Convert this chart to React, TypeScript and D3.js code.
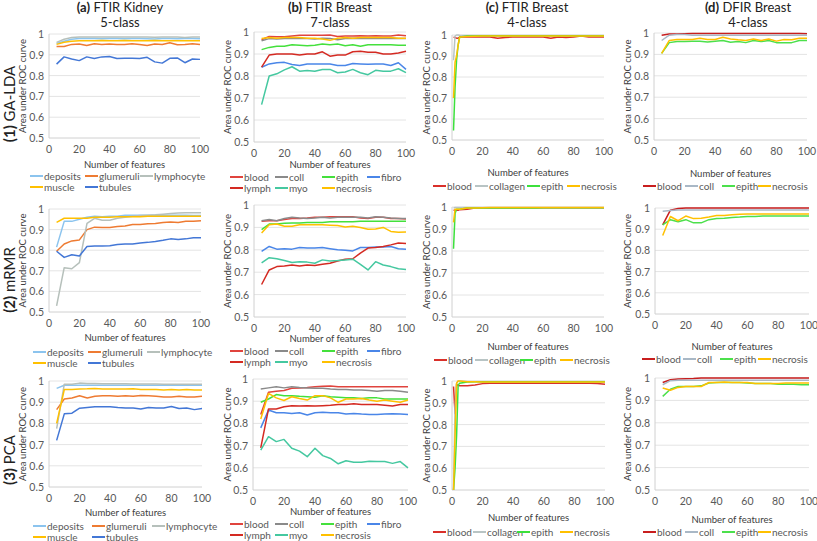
import React from "react";
import * as d3 from "d3";

const X5 = [5, 10, 15, 20, 25, 30, 35, 40, 45, 50, 55, 60, 65, 70, 75, 80, 85, 90, 95, 100];
const XC = [1, 2, 3, 4, 5, 10, 15, 20, 25, 30, 35, 40, 45, 50, 55, 60, 65, 70, 75, 80, 85, 90, 95, 100];
const X_TICKS = [0, 20, 40, 60, 80, 100];
const Y_TICKS = [0.5, 0.6, 0.7, 0.8, 0.9, 1];
const Y_TICK_LABELS = ["0.5", "0.6", "0.7", "0.8", "0.9", "1"];

const COL_TITLES = [
  ["(a)", "FTIR Kidney", "5-class"],
  ["(b)", "FTIR Breast", "7-class"],
  ["(c)", "FTIR Breast", "4-class"],
  ["(d)", "DFIR Breast", "4-class"],
];
const ROW_LABELS = [["(1)", "GA-LDA"], ["(2)", "mRMR"], ["(3)", "PCA"]];

const KIDNEY_NAMES = ["deposits", "glumeruli", "lymphocyte", "muscle", "tubules"];
const KIDNEY_COLORS = ["#8cc4ee", "#ee7b32", "#b6c0bb", "#ffc000", "#4377d6"];
const B7_NAMES = ["blood", "coll", "epith", "fibro", "lymph", "myo", "necrosis"];
const B7_COLORS = ["#e0443e", "#8a8a8a", "#44e03c", "#4a86e8", "#d42a22", "#45c8a0", "#ffc000"];
const F4_NAMES = ["blood", "collagen", "epith", "necrosis"];
const F4_COLORS = ["#d9302a", "#b8c4c4", "#3ce03c", "#ffc000"];
const D4_NAMES = ["blood", "coll", "epith", "necrosis"];
const D4_COLORS = ["#c81e1e", "#a9b8c6", "#4ce04c", "#ffc000"];

// (1a) GA-LDA, FTIR Kidney
const gaKidDeposits = [0.955, 0.965, 0.975, 0.978, 0.978, 0.978, 0.977, 0.978, 0.978, 0.977, 0.978, 0.978, 0.977, 0.976, 0.978, 0.978, 0.977, 0.978, 0.978, 0.977];
const gaKidGlumeruli = [0.94, 0.94, 0.95, 0.952, 0.945, 0.953, 0.95, 0.952, 0.95, 0.95, 0.953, 0.95, 0.945, 0.952, 0.95, 0.958, 0.948, 0.95, 0.953, 0.95];
const gaKidLymphocyte = [0.96, 0.975, 0.983, 0.985, 0.985, 0.986, 0.985, 0.985, 0.986, 0.985, 0.985, 0.986, 0.985, 0.984, 0.985, 0.986, 0.985, 0.983, 0.985, 0.986];
const gaKidMuscle = [0.95, 0.96, 0.965, 0.968, 0.968, 0.968, 0.969, 0.968, 0.968, 0.969, 0.968, 0.968, 0.968, 0.969, 0.968, 0.968, 0.968, 0.968, 0.967, 0.968];
const gaKidTubules = [0.855, 0.89, 0.88, 0.872, 0.89, 0.882, 0.89, 0.892, 0.882, 0.883, 0.884, 0.882, 0.888, 0.866, 0.86, 0.883, 0.885, 0.862, 0.88, 0.878];

// (1b) GA-LDA, FTIR Breast 7-class
const gaB7Blood = [0.965, 0.98, 0.978, 0.978, 0.982, 0.985, 0.985, 0.985, 0.985, 0.986, 0.98, 0.982, 0.982, 0.983, 0.982, 0.983, 0.982, 0.982, 0.986, 0.983];
const gaB7Coll = [0.96, 0.97, 0.968, 0.97, 0.972, 0.97, 0.97, 0.968, 0.972, 0.97, 0.965, 0.97, 0.972, 0.97, 0.972, 0.97, 0.972, 0.97, 0.97, 0.97];
const gaB7Epith = [0.92, 0.93, 0.935, 0.935, 0.942, 0.94, 0.938, 0.94, 0.945, 0.942, 0.945, 0.938, 0.942, 0.935, 0.942, 0.942, 0.942, 0.942, 0.94, 0.94];
const gaB7Fibro = [0.84, 0.855, 0.86, 0.862, 0.852, 0.848, 0.855, 0.855, 0.855, 0.855, 0.848, 0.848, 0.857, 0.855, 0.853, 0.855, 0.855, 0.848, 0.86, 0.83];
const gaB7Lymph = [0.84, 0.895, 0.9, 0.9, 0.9, 0.895, 0.9, 0.9, 0.91, 0.89, 0.895, 0.895, 0.91, 0.912, 0.908, 0.908, 0.9, 0.9, 0.905, 0.912];
const gaB7Myo = [0.67, 0.8, 0.81, 0.828, 0.842, 0.822, 0.825, 0.822, 0.83, 0.83, 0.815, 0.818, 0.83, 0.815, 0.806, 0.826, 0.822, 0.822, 0.833, 0.815];
const gaB7Necrosis = [0.97, 0.975, 0.972, 0.975, 0.975, 0.975, 0.972, 0.972, 0.968, 0.962, 0.972, 0.975, 0.972, 0.975, 0.975, 0.975, 0.975, 0.975, 0.972, 0.972];

// (1c) GA-LDA, FTIR Breast 4-class
const gaF4Blood = [0.99, 0.988, 0.985, 0.985, 0.99, 0.99, 0.99, 0.99, 0.99, 0.985, 0.988, 0.99, 0.99, 0.99, 0.99, 0.99, 0.985, 0.99, 0.988, 0.99, 0.995, 0.99, 0.99, 0.99];
const gaF4Collagen = [0.88, 0.995, 1, 1, 0.999, 0.998, 0.998, 0.998, 0.998, 0.998, 0.998, 0.998, 0.998, 0.998, 0.998, 0.998, 0.998, 0.998, 0.998, 0.998, 0.998, 0.998, 0.998, 0.998];
const gaF4Epith = [0.545, 0.75, 0.88, 0.95, 0.99, 0.995, 0.995, 0.996, 0.997, 0.997, 0.997, 0.997, 0.997, 0.997, 0.997, 0.997, 0.997, 0.997, 0.997, 0.997, 0.997, 0.997, 0.997, 0.997];
const gaF4Necrosis = [0.7, 0.87, 0.9, 0.95, 0.99, 0.993, 0.994, 0.995, 0.995, 0.995, 0.995, 0.995, 0.995, 0.995, 0.995, 0.995, 0.995, 0.995, 0.995, 0.995, 0.995, 0.995, 0.995, 0.995];

// (1d) GA-LDA, DFIR Breast 4-class
const gaD4Blood = [0.99, 0.995, 0.995, 0.997, 0.998, 0.998, 0.998, 0.998, 0.998, 0.998, 0.998, 0.998, 0.998, 0.998, 0.998, 0.998, 0.998, 0.998, 0.998, 0.997];
const gaD4Coll = [0.965, 0.99, 0.993, 0.993, 0.99, 0.99, 0.99, 0.99, 0.99, 0.99, 0.99, 0.99, 0.99, 0.99, 0.99, 0.99, 0.99, 0.99, 0.99, 0.99];
const gaD4Epith = [0.905, 0.955, 0.96, 0.96, 0.962, 0.962, 0.958, 0.962, 0.965, 0.957, 0.96, 0.955, 0.965, 0.96, 0.965, 0.955, 0.955, 0.955, 0.965, 0.965];
const gaD4Necrosis = [0.905, 0.965, 0.97, 0.97, 0.97, 0.975, 0.97, 0.97, 0.98, 0.972, 0.968, 0.965, 0.972, 0.965, 0.972, 0.962, 0.97, 0.968, 0.975, 0.975];

// (2a) mRMR, FTIR Kidney
const mrKidDeposits = [0.815, 0.94, 0.94, 0.95, 0.96, 0.965, 0.962, 0.965, 0.965, 0.97, 0.97, 0.97, 0.97, 0.97, 0.97, 0.97, 0.97, 0.97, 0.968, 0.968];
const mrKidGlumeruli = [0.795, 0.83, 0.845, 0.85, 0.9, 0.912, 0.91, 0.91, 0.915, 0.918, 0.925, 0.925, 0.928, 0.93, 0.935, 0.937, 0.935, 0.94, 0.94, 0.943];
const mrKidLymphocyte = [0.53, 0.715, 0.71, 0.74, 0.93, 0.955, 0.945, 0.945, 0.955, 0.96, 0.965, 0.968, 0.97, 0.972, 0.975, 0.978, 0.98, 0.982, 0.982, 0.982];
const mrKidMuscle = [0.935, 0.955, 0.955, 0.955, 0.955, 0.96, 0.96, 0.96, 0.962, 0.962, 0.962, 0.962, 0.965, 0.965, 0.965, 0.965, 0.965, 0.965, 0.965, 0.965];
const mrKidTubules = [0.795, 0.765, 0.778, 0.772, 0.818, 0.82, 0.82, 0.822, 0.828, 0.83, 0.83, 0.835, 0.838, 0.842, 0.848, 0.855, 0.852, 0.855, 0.86, 0.86];

// (2b) mRMR, FTIR Breast 7-class
const mrB7Blood = [0.928, 0.93, 0.93, 0.935, 0.94, 0.94, 0.942, 0.945, 0.945, 0.948, 0.948, 0.948, 0.948, 0.942, 0.94, 0.945, 0.945, 0.94, 0.94, 0.938];
const mrB7Coll = [0.93, 0.935, 0.93, 0.94, 0.945, 0.942, 0.94, 0.942, 0.945, 0.942, 0.945, 0.945, 0.945, 0.945, 0.942, 0.948, 0.945, 0.942, 0.94, 0.94];
const mrB7Epith = [0.89, 0.915, 0.915, 0.918, 0.92, 0.92, 0.922, 0.922, 0.922, 0.925, 0.925, 0.925, 0.925, 0.928, 0.928, 0.928, 0.928, 0.928, 0.928, 0.928];
const mrB7Fibro = [0.793, 0.815, 0.803, 0.805, 0.803, 0.81, 0.808, 0.808, 0.81, 0.805, 0.8, 0.798, 0.795, 0.81, 0.81, 0.812, 0.812, 0.815, 0.805, 0.803];
const mrB7Lymph = [0.645, 0.71, 0.725, 0.728, 0.732, 0.728, 0.732, 0.73, 0.735, 0.74, 0.75, 0.758, 0.76, 0.785, 0.808, 0.81, 0.815, 0.822, 0.83, 0.828];
const mrB7Myo = [0.742, 0.765, 0.76, 0.752, 0.743, 0.747, 0.745, 0.74, 0.755, 0.75, 0.752, 0.755, 0.758, 0.735, 0.71, 0.747, 0.732, 0.725, 0.715, 0.712];
const mrB7Necrosis = [0.875, 0.912, 0.915, 0.905, 0.905, 0.912, 0.912, 0.912, 0.912, 0.91, 0.908, 0.902, 0.905, 0.9, 0.892, 0.893, 0.9, 0.882, 0.878, 0.88];

// (2c) mRMR, FTIR Breast 4-class
const mrF4Blood = [0.985, 0.985, 0.985, 0.985, 0.988, 0.99, 0.995, 0.997, 0.997, 0.997, 0.997, 0.997, 0.997, 0.997, 0.997, 0.997, 0.997, 0.997, 0.997, 0.997, 0.997, 0.997, 0.997, 0.997];
const mrF4Collagen = [0.995, 0.998, 0.998, 0.998, 0.998, 0.998, 0.998, 0.998, 0.998, 0.998, 0.998, 0.998, 0.998, 0.998, 0.998, 0.998, 0.998, 0.998, 0.998, 0.998, 0.998, 0.998, 0.998, 0.998];
const mrF4Epith = [0.81, 0.97, 0.99, 0.99, 0.99, 0.995, 0.995, 0.995, 0.995, 0.995, 0.995, 0.996, 0.996, 0.996, 0.996, 0.997, 0.997, 0.997, 0.997, 0.997, 0.997, 0.997, 0.997, 0.997];
const mrF4Necrosis = [0.93, 0.99, 0.99, 0.99, 0.99, 0.995, 0.996, 0.997, 0.998, 0.998, 0.998, 0.998, 0.998, 0.998, 0.998, 0.998, 0.998, 0.998, 0.998, 0.998, 0.998, 0.998, 0.998, 0.998];

// (2d) mRMR, DFIR Breast 4-class
const mrD4Blood = [0.92, 0.99, 0.998, 1, 1, 1, 1, 1, 1, 1, 1, 1, 1, 1, 1, 1, 1, 1, 1, 1];
const mrD4Coll = [0.985, 0.988, 0.99, 0.99, 0.99, 0.99, 0.99, 0.99, 0.99, 0.99, 0.99, 0.99, 0.99, 0.99, 0.99, 0.99, 0.99, 0.99, 0.99, 0.99];
const mrD4Epith = [0.92, 0.945, 0.935, 0.945, 0.93, 0.93, 0.945, 0.95, 0.952, 0.955, 0.957, 0.96, 0.96, 0.962, 0.962, 0.962, 0.962, 0.962, 0.962, 0.962];
const mrD4Necrosis = [0.87, 0.96, 0.94, 0.962, 0.95, 0.952, 0.958, 0.965, 0.965, 0.968, 0.97, 0.972, 0.972, 0.972, 0.972, 0.972, 0.972, 0.972, 0.972, 0.972];

// (3a) PCA, FTIR Kidney
const pcKidDeposits = [0.965, 0.98, 0.98, 0.98, 0.98, 0.98, 0.98, 0.98, 0.98, 0.98, 0.98, 0.98, 0.98, 0.98, 0.98, 0.98, 0.98, 0.98, 0.98, 0.98];
const pcKidGlumeruli = [0.865, 0.915, 0.92, 0.93, 0.92, 0.928, 0.93, 0.93, 0.928, 0.93, 0.928, 0.932, 0.93, 0.928, 0.925, 0.925, 0.928, 0.925, 0.925, 0.928];
const pcKidLymphocyte = [0.775, 0.985, 0.985, 0.99, 0.988, 0.988, 0.987, 0.987, 0.987, 0.987, 0.986, 0.986, 0.986, 0.986, 0.985, 0.985, 0.985, 0.985, 0.985, 0.985];
const pcKidMuscle = [0.8, 0.96, 0.96, 0.962, 0.963, 0.965, 0.962, 0.962, 0.962, 0.962, 0.963, 0.96, 0.96, 0.96, 0.958, 0.96, 0.958, 0.96, 0.958, 0.958];
const pcKidTubules = [0.72, 0.845, 0.848, 0.872, 0.875, 0.878, 0.878, 0.878, 0.875, 0.873, 0.873, 0.868, 0.875, 0.873, 0.873, 0.88, 0.87, 0.873, 0.865, 0.87];

// (3b) PCA, FTIR Breast 7-class
const pcB7Blood = [0.84, 0.94, 0.945, 0.948, 0.958, 0.96, 0.962, 0.965, 0.967, 0.968, 0.965, 0.965, 0.965, 0.965, 0.965, 0.965, 0.965, 0.965, 0.965, 0.965];
const pcB7Coll = [0.955, 0.96, 0.965, 0.96, 0.965, 0.962, 0.96, 0.958, 0.958, 0.955, 0.953, 0.953, 0.95, 0.95, 0.948, 0.945, 0.948, 0.948, 0.945, 0.94];
const pcB7Epith = [0.895, 0.91, 0.93, 0.925, 0.925, 0.922, 0.92, 0.918, 0.925, 0.92, 0.918, 0.915, 0.915, 0.912, 0.915, 0.915, 0.91, 0.91, 0.91, 0.91];
const pcB7Fibro = [0.78, 0.86, 0.848, 0.848, 0.845, 0.848, 0.838, 0.848, 0.85, 0.848, 0.848, 0.842, 0.845, 0.842, 0.84, 0.84, 0.842, 0.843, 0.842, 0.84];
const pcB7Lymph = [0.69, 0.865, 0.865, 0.875, 0.88, 0.878, 0.88, 0.878, 0.88, 0.882, 0.885, 0.885, 0.888, 0.885, 0.885, 0.885, 0.882, 0.878, 0.885, 0.885];
const pcB7Myo = [0.68, 0.74, 0.718, 0.728, 0.688, 0.675, 0.65, 0.688, 0.655, 0.642, 0.618, 0.632, 0.625, 0.625, 0.63, 0.628, 0.628, 0.62, 0.628, 0.6];
const pcB7Necrosis = [0.82, 0.935, 0.915, 0.903, 0.92, 0.912, 0.905, 0.925, 0.925, 0.915, 0.895, 0.91, 0.91, 0.912, 0.905, 0.9, 0.905, 0.9, 0.895, 0.905];

// (3c) PCA, FTIR Breast 4-class
const pcF4Blood = [0.975, 0.85, 0.985, 0.98, 0.978, 0.978, 0.982, 0.988, 0.99, 0.99, 0.99, 0.99, 0.99, 0.99, 0.99, 0.99, 0.99, 0.99, 0.99, 0.99, 0.99, 0.99, 0.988, 0.985];
const pcF4Collagen = [0.5, 0.88, 0.99, 1, 1, 0.998, 0.998, 0.998, 0.998, 0.998, 0.998, 0.998, 0.998, 0.998, 0.998, 0.998, 0.998, 0.998, 0.998, 0.998, 0.998, 0.998, 0.998, 0.998];
const pcF4Epith = [0.5, 0.6, 0.75, 0.98, 0.99, 0.995, 0.996, 0.996, 0.997, 0.997, 0.997, 0.997, 0.997, 0.997, 0.997, 0.997, 0.997, 0.997, 0.997, 0.997, 0.997, 0.997, 0.997, 0.997];
const pcF4Necrosis = [0.5, 0.75, 0.99, 1, 1, 0.997, 0.996, 0.995, 0.995, 0.995, 0.995, 0.995, 0.995, 0.995, 0.995, 0.995, 0.995, 0.995, 0.995, 0.995, 0.995, 0.995, 0.995, 0.995];

// (3d) PCA, DFIR Breast 4-class
const pcD4Blood = [0.98, 0.992, 0.995, 0.997, 0.998, 1, 1, 1, 1, 1, 1, 1, 1, 1, 1, 1, 1, 1, 1, 1];
const pcD4Coll = [0.97, 0.988, 0.99, 0.99, 0.99, 0.99, 0.99, 0.99, 0.99, 0.99, 0.99, 0.99, 0.99, 0.99, 0.99, 0.99, 0.99, 0.99, 0.99, 0.99];
const pcD4Epith = [0.918, 0.95, 0.962, 0.962, 0.962, 0.965, 0.978, 0.98, 0.98, 0.98, 0.98, 0.978, 0.975, 0.975, 0.975, 0.972, 0.972, 0.972, 0.97, 0.97];
const pcD4Necrosis = [0.955, 0.945, 0.958, 0.962, 0.962, 0.962, 0.98, 0.98, 0.982, 0.98, 0.98, 0.98, 0.975, 0.975, 0.975, 0.975, 0.978, 0.978, 0.978, 0.978];

const ROWS_DATA = [
  [
    [gaKidDeposits, gaKidGlumeruli, gaKidLymphocyte, gaKidMuscle, gaKidTubules],
    [gaB7Blood, gaB7Coll, gaB7Epith, gaB7Fibro, gaB7Lymph, gaB7Myo, gaB7Necrosis],
    [gaF4Blood, gaF4Collagen, gaF4Epith, gaF4Necrosis],
    [gaD4Blood, gaD4Coll, gaD4Epith, gaD4Necrosis],
  ],
  [
    [mrKidDeposits, mrKidGlumeruli, mrKidLymphocyte, mrKidMuscle, mrKidTubules],
    [mrB7Blood, mrB7Coll, mrB7Epith, mrB7Fibro, mrB7Lymph, mrB7Myo, mrB7Necrosis],
    [mrF4Blood, mrF4Collagen, mrF4Epith, mrF4Necrosis],
    [mrD4Blood, mrD4Coll, mrD4Epith, mrD4Necrosis],
  ],
  [
    [pcKidDeposits, pcKidGlumeruli, pcKidLymphocyte, pcKidMuscle, pcKidTubules],
    [pcB7Blood, pcB7Coll, pcB7Epith, pcB7Fibro, pcB7Lymph, pcB7Myo, pcB7Necrosis],
    [pcF4Blood, pcF4Collagen, pcF4Epith, pcF4Necrosis],
    [pcD4Blood, pcD4Coll, pcD4Epith, pcD4Necrosis],
  ],
];

const COL_META = [
  { names: KIDNEY_NAMES, colors: KIDNEY_COLORS, xs: X5, perRow: 3 },
  { names: B7_NAMES, colors: B7_COLORS, xs: X5, perRow: 4 },
  { names: F4_NAMES, colors: F4_COLORS, xs: XC, perRow: 4 },
  { names: D4_NAMES, colors: D4_COLORS, xs: X5, perRow: 4 },
];

// layout: [left, right, top(y=1), bottom(y=0.5), axisTitleY, legendY]
const BOXES = [
  [[49, 200, 34, 138, 164, 176], [254, 406, 32, 142, 164, 177], [452, 604, 35, 140, 172, 186], [654, 807, 33, 140, 173, 186]],
  [[49, 201, 209, 312, 337, 352], [254, 406, 205, 317, 338, 351], [452, 604, 207, 317, 346, 360], [655, 809, 208, 314, 346, 359]],
  [[49, 202, 381, 487, 512, 526], [253, 408, 379, 490, 511, 524], [452, 605, 381, 490, 517, 532], [655, 809, 378, 490, 519, 532]],
];
const LEGEND_X = [
  [[30, 85, 140], [230, 275, 322, 367], [433, 475, 527, 567], [643, 685, 722, 758]],
  [[33, 88, 147], [230, 275, 322, 367], [434, 475, 520, 560], [642, 683, 720, 758]],
  [[33, 92, 152], [230, 275, 321, 367], [433, 473, 517, 560], [643, 685, 722, 758]],
];
const Y_TITLE_X = [23, 228, 427, 628];
const COL_CENTER = [120, 330, 527, 748];
const ROW_LABEL_Y = [104, 280, 460];

const FONT = "Lato, 'Liberation Sans', sans-serif";
const TXT = "#595959";

function Panel({ row, col }: { row: number; col: number }) {
  const [l, r, t, b, axisTitleY, legendY] = BOXES[row][col];
  const meta = COL_META[col];
  const data = ROWS_DATA[row][col];
  const x = d3.scaleLinear().domain([0, 100]).range([l, r]);
  const y = d3.scaleLinear().domain([0.5, 1]).range([b, t]);
  const line = d3
    .line<number>()
    .x((_, i) => x(meta.xs[i]))
    .y((d) => y(d));
  const lx = LEGEND_X[row][col];
  return (
    <g>
      {Y_TICKS.map((v, i) => (
        <g key={"y" + i}>
          <line x1={l} x2={r} y1={y(v)} y2={y(v)} stroke={i === 0 ? "#d0d0d0" : "#e4e4e4"} strokeWidth={1} />
          <text x={l - 5} y={y(v) + 4} textAnchor="end" fontSize={10.5} fill={TXT} fontFamily={FONT}>
            {Y_TICK_LABELS[i]}
          </text>
        </g>
      ))}
      <line x1={l} x2={l} y1={t} y2={b} stroke="#d0d0d0" strokeWidth={1} />
      {X_TICKS.map((v) => (
        <text key={"x" + v} x={x(v)} y={b + 15} textAnchor="middle" fontSize={10.5} fill={TXT} fontFamily={FONT}>
          {v}
        </text>
      ))}
      <text x={(l + r) / 2} y={axisTitleY + 4} textAnchor="middle" fontSize={9.5} fill="#404040" fontFamily={FONT}>
        Number of features
      </text>
      <text
        transform={`translate(${Y_TITLE_X[col]},${(t + b) / 2}) rotate(-90)`}
        textAnchor="middle"
        dy={3}
        fontSize={9.5}
        fill="#404040"
        fontFamily={FONT}
      >
        Area under ROC curve
      </text>
      {data.map((vals, i) => (
        <path key={"s" + i} d={line(vals) || ""} fill="none" stroke={meta.colors[i]} strokeWidth={1.5} strokeLinejoin="round" />
      ))}
      {meta.names.map((name, i) => {
        const rowIdx = Math.floor(i / meta.perRow);
        const colIdx = i % meta.perRow;
        const xx = lx[colIdx];
        const yy = legendY + rowIdx * 11;
        return (
          <g key={"l" + i}>
            <line x1={xx} x2={xx + 13} y1={yy} y2={yy} stroke={meta.colors[i]} strokeWidth={2} />
            <text x={xx + 14} y={yy + 3.5} fontSize={10} fill={TXT} fontFamily={FONT}>
              {name}
            </text>
          </g>
        );
      })}
    </g>
  );
}

export default function App() {
  return (
    <svg
      width={817}
      height={541}
      style={{ position: "absolute", left: 0, top: 0, background: "#fff" }}
    >
      {COL_TITLES.map((ct, c) => (
        <g key={"ct" + c} fontFamily={FONT} fill="#222">
          <text x={COL_CENTER[c]} y={12} textAnchor="middle" fontSize={13}>
            <tspan fontWeight="bold">{ct[0]}</tspan>
            <tspan> {ct[1]}</tspan>
          </text>
          <text x={COL_CENTER[c]} y={27} textAnchor="middle" fontSize={13}>
            {ct[2]}
          </text>
        </g>
      ))}
      {ROW_LABELS.map((rl, r) => (
        <text
          key={"rl" + r}
          transform={`translate(10,${ROW_LABEL_Y[r]}) rotate(-90)`}
          textAnchor="middle"
          dy={5}
          fontSize={15}
          fill="#222"
          fontFamily={FONT}
        >
          <tspan fontWeight="bold">{rl[0]}</tspan>
          <tspan> {rl[1]}</tspan>
        </text>
      ))}
      {[0, 1, 2].map((r) => [0, 1, 2, 3].map((c) => <Panel key={r + "-" + c} row={r} col={c} />))}
    </svg>
  );
}
